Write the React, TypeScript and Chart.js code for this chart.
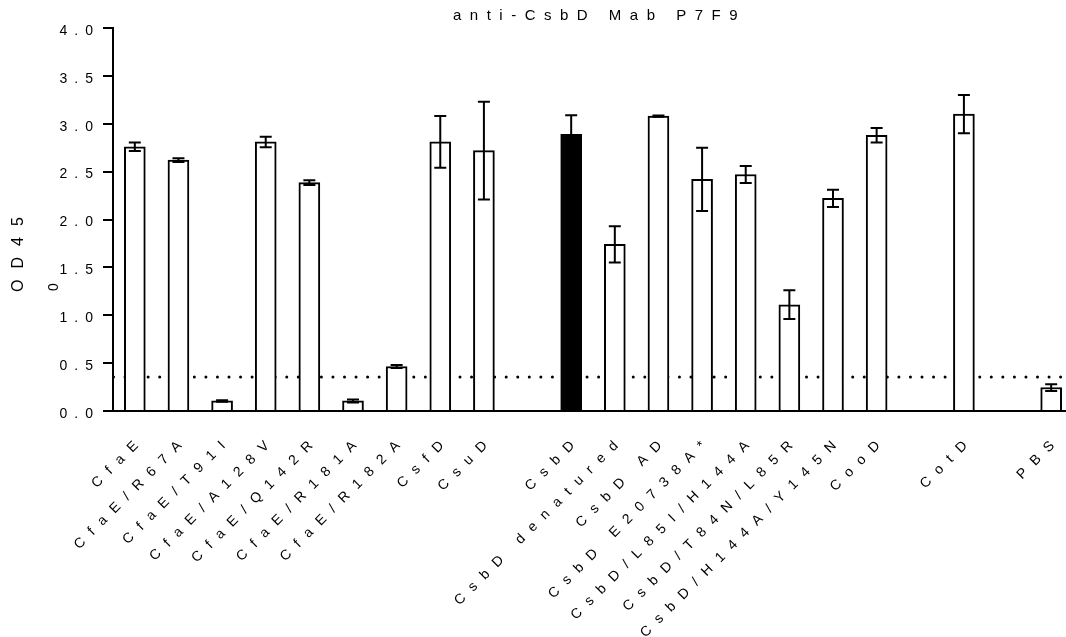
import React, { useEffect, useRef } from 'react';
import { Chart, registerables } from 'chart.js';

Chart.register(...registerables);

const TITLE = 'anti-CsbD Mab P7F9';
const Y_TITLE_MAIN = 'OD45';
const Y_TITLE_WRAP = '0';

const categories = [
  'CfaE', 'CfaE/R67A', 'CfaE/T91I', 'CfaE/A128V', 'CfaE/Q142R', 'CfaE/R181A', 'CfaE/R182A',
  'CsfD', 'CsuD', '', 'CsbD', 'CsbD denatured', 'CsbD AD', 'CsbD E20738A*',
  'CsbD/L85I/H144A', 'CsbD/T84N/L85R', 'CsbD/H144A/Y145N', 'CooD', '', 'CotD', '', 'PBS',
];

const means = [
  2.76, 2.62, 0.105, 2.81, 2.385, 0.105, 0.465, 2.81, 2.72, null, 2.89, 1.74, 3.08, 2.42,
  2.47, 1.11, 2.22, 2.88, null, 3.10, null, 0.245,
];

const errors = [
  0.045, 0.02, 0.008, 0.055, 0.025, 0.015, 0.015, 0.27, 0.51, null, 0.2, 0.19, 0.006, 0.33,
  0.09, 0.15, 0.09, 0.075, null, 0.2, null, 0.035,
];

const CUTOFF = 0.355;
const HIGHLIGHT = 'CsbD';
const Y_MIN = 0;
const Y_MAX = 4;
const Y_STEP = 0.5;

const FONT = '"Liberation Sans", Arial, sans-serif';

const spacingPlugin = {
  id: 'spacing',
  beforeUpdate(chart: any) { chart.ctx.letterSpacing = '9.5px'; },
  beforeLayout(chart: any) { chart.ctx.letterSpacing = '9.5px'; },
  beforeDraw(chart: any) { chart.ctx.letterSpacing = '9.5px'; },
};

const cutoffPlugin = {
  id: 'cutoff',
  beforeDatasetsDraw(chart: any) {
    const { ctx, chartArea, scales } = chart;
    const y = scales.y.getPixelForValue(CUTOFF);
    ctx.save();
    ctx.strokeStyle = '#000';
    ctx.lineWidth = 3;
    ctx.lineCap = 'round';
    ctx.setLineDash([0, 11.55]);
    ctx.beginPath();
    ctx.moveTo(chartArea.left + 0.5, y);
    ctx.lineTo(chartArea.right, y);
    ctx.stroke();
    ctx.restore();
  },
};

const errorBarPlugin = {
  id: 'errorBars',
  afterDatasetsDraw(chart: any) {
    const { ctx, scales } = chart;
    ctx.save();
    ctx.strokeStyle = '#000';
    ctx.lineWidth = 2;
    for (let i = 0; i < means.length; i++) {
      const m = means[i];
      const e = errors[i];
      if (m == null || e == null) continue;
      const x = scales.x.getPixelForValue(i);
      const yt = scales.y.getPixelForValue(m + e);
      const yb = scales.y.getPixelForValue(m - e);
      ctx.beginPath();
      ctx.moveTo(x, yt);
      ctx.lineTo(x, yb);
      ctx.moveTo(x - 6, yt);
      ctx.lineTo(x + 6, yt);
      ctx.moveTo(x - 6, yb);
      ctx.lineTo(x + 6, yb);
      ctx.stroke();
    }
    ctx.restore();
  },
};

const textPlugin = {
  id: 'texts',
  afterDraw(chart: any) {
    const { ctx } = chart;
    ctx.save();
    ctx.fillStyle = '#000';
    ctx.font = `15px ${FONT}`;
    ctx.letterSpacing = '8.5px';
    ctx.textAlign = 'left';
    ctx.textBaseline = 'middle';
    ctx.fillText(TITLE, 453, 16);

    ctx.font = `16px ${FONT}`;
    ctx.letterSpacing = '11px';
    ctx.save();
    ctx.translate(19, 292);
    ctx.rotate(-Math.PI / 2);
    ctx.fillText(Y_TITLE_MAIN, 0, 0);
    ctx.restore();
    ctx.font = `14px ${FONT}`;
    ctx.save();
    ctx.translate(54, 291);
    ctx.rotate(-Math.PI / 2);
    ctx.fillText(Y_TITLE_WRAP, 0, 0);
    ctx.restore();
    ctx.restore();
  },
};

export default function App() {
  const ref = useRef<HTMLCanvasElement | null>(null);

  useEffect(() => {
    const canvas = ref.current;
    if (!canvas) return;
    const chart = new Chart(canvas, {
      type: 'bar',
      data: {
        labels: categories,
        datasets: [
          {
            data: means as any,
            backgroundColor: categories.map((c) => (c === HIGHLIGHT ? '#000' : '#fff')),
            borderColor: '#000',
            borderWidth: 2,
            barThickness: 21,
          },
        ],
      },
      options: {
        responsive: false,
        animation: false,
        devicePixelRatio: 1,
        layout: { padding: { top: 28, left: 0, right: 0, bottom: 0 } },
        plugins: {
          legend: { display: false },
          title: { display: false },
          tooltip: { enabled: false },
        },
        scales: {
          x: {
            type: 'category',
            offset: true,
            grid: { display: false, drawTicks: false },
            border: { display: true, color: '#000', width: 2 },
            ticks: {
              autoSkip: false,
              minRotation: 45,
              maxRotation: 45,
              padding: 20,
              labelOffset: 8,
              color: '#000',
              font: { family: FONT, size: 14 },
            },
            afterFit(scale: any) {
              scale.height = 637 - 411;
              scale.paddingLeft = 0;
              scale.paddingRight = 0;
            },
          },
          y: {
            min: Y_MIN,
            max: Y_MAX,
            grid: {
              display: true,
              drawOnChartArea: false,
              drawTicks: true,
              tickLength: 10,
              color: '#000',
              lineWidth: 2,
            },
            border: { display: true, color: '#000', width: 2 },
            ticks: {
              stepSize: Y_STEP,
              padding: 3,
              labelOffset: 3,
              color: '#000',
              font: { family: FONT, size: 14 },
              callback: (v: any) => Number(v).toFixed(1),
            },
            afterFit(scale: any) { scale.width = 113; },
            afterUpdate(scale: any) {
              if (!scale.__spaced) {
                const orig = scale.drawLabels;
                scale.drawLabels = function (area: any) {
                  const c = this.ctx;
                  c.save();
                  c.letterSpacing = '7px';
                  orig.call(this, area);
                  c.restore();
                };
                scale.__spaced = true;
              }
            },
          },
        },
      },
      plugins: [spacingPlugin, cutoffPlugin, errorBarPlugin, textPlugin],
    });
    return () => chart.destroy();
  }, []);

  return (
    <div style={{ position: 'absolute', left: 0, top: 0, width: 1066, height: 637, overflow: 'hidden', background: '#fff' }}>
      <canvas ref={ref} width={1073} height={637} style={{ display: 'block' }} />
    </div>
  );
}
